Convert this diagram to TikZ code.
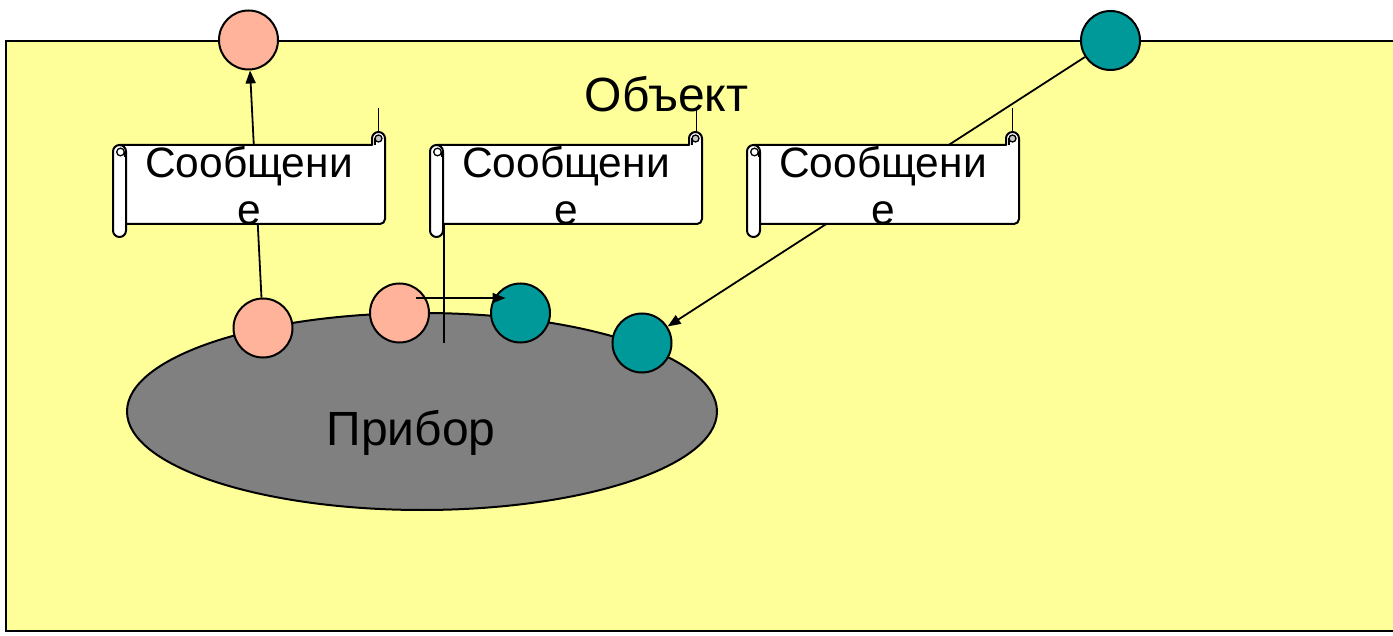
\documentclass[tikz,border=0pt]{standalone}
\usepackage{fontspec}
\setmainfont{Liberation Sans}
\usetikzlibrary{arrows.meta,calc,shapes.geometric}

\definecolor{fieldyellow}{RGB}{255,255,153}
\definecolor{dotpink}{RGB}{255,179,155}
\definecolor{dotteal}{RGB}{0,153,153}
\definecolor{devgray}{RGB}{128,128,128}

\tikzset{
  outline/.style={draw=black, line width=2pt},
  dot/.style={circle, outline, minimum size=59pt, inner sep=0pt},
  pinkdot/.style={dot, fill=dotpink},
  tealdot/.style={dot, fill=dotteal},
  conn/.style={draw=black, line width=1.8pt},
  arrowconn/.style={conn, -{Triangle[length=13pt,width=10pt]}},
  bigtext/.style={font=\fontsize{48}{54}\selectfont, inner sep=0pt},
  scrollline/.style={draw=black, line width=2pt, line join=round},
  curlline/.style={draw=black, line width=1.3pt},
  scrolltext/.style={minimum width=272pt, minimum height=105pt, inner sep=0pt,
    align=center, font=\fontsize{42.5}{47}\selectfont},
}

% horizontal scroll, 272 x 105, left edge at #2, top edge at y=132, named #1
\newcommand\msgscroll[2]{%
  \begin{scope}[shift={(#2,132)}]
    \draw[scrollline, fill=white] (6.5,13) -- (259,13) -- (259,6.5)
      arc[start angle=180, end angle=360, radius=6.5]
      [rounded corners=5pt] -- (272,92) -- (6.5,92) [sharp corners] -- cycle;
    \draw[curlline, fill=gray!45] (265.5,6.5) circle[radius=3.5];
    \draw[curlline] (262,6.5) -- (262,13);
    \draw[scrollline, fill=white, rounded corners=6.5pt] (0,13) rectangle (13,105);
    \draw[curlline] (7.5,20) circle[radius=3.8];
    \draw[curlline] (11.3,20) -- (11.3,25);
  \end{scope}
  \node[scrolltext] (#1) at (#2+136,185.5) {Сообщени\\е};
}

\begin{document}
\begin{tikzpicture}[x=1pt, y=-1pt]
  \useasboundingbox (0,0) rectangle (1393,636);
  \fill[white] (0,0) rectangle (1393,636);

  % the object field
  \fill[fieldyellow] (6,41) rectangle (1393,631);
  \draw[line width=2pt] (1393,41) -- (6,41) -- (6,631) -- (1393,631);

  % the device
  \node[ellipse, outline, fill=devgray, minimum width=590pt, minimum height=197pt]
    (dev) at (422,411.5) {};

  % ports
  \node[pinkdot] (pt) at (248.5,40) {};
  \node[tealdot] (tt) at (1110.5,40.5) {};
  \node[pinkdot] (p1) at (263,328) {};
  \node[pinkdot] (p2) at (399.5,313) {};
  \node[tealdot] (t2) at (520.5,313) {};
  \node[tealdot] (t3) at (642,343) {};

  % message routes
  \draw[arrowconn] (p1) -- (pt);
  \draw[arrowconn] (tt) -- (t3);
  \coordinate (v1) at (444,343);
  \draw[conn] (v1) -- (444,200);
  \coordinate (k1) at (378.5,108);
  \coordinate (k2) at (696.5,108);
  \coordinate (k3) at (1012.5,108);
  \draw[line width=1pt] (k1) -- (378.5,150);
  \draw[line width=1pt] (k2) -- (696.5,150);
  \draw[line width=1pt] (k3) -- (1012.5,150);

  % messages
  \msgscroll{s1}{113}
  \msgscroll{s2}{430}
  \msgscroll{s3}{747}

  \draw[arrowconn] ($(p2.center)+(16,-15)$) -- ($(t2.center)+(-15,-15)$);

  % labels
  \node[bigtext, anchor=base] (objlabel) at (666.5,112) {Объект};
  \node[bigtext, anchor=base] (devlabel) at (411,445) {Прибор};
\end{tikzpicture}
\end{document}
